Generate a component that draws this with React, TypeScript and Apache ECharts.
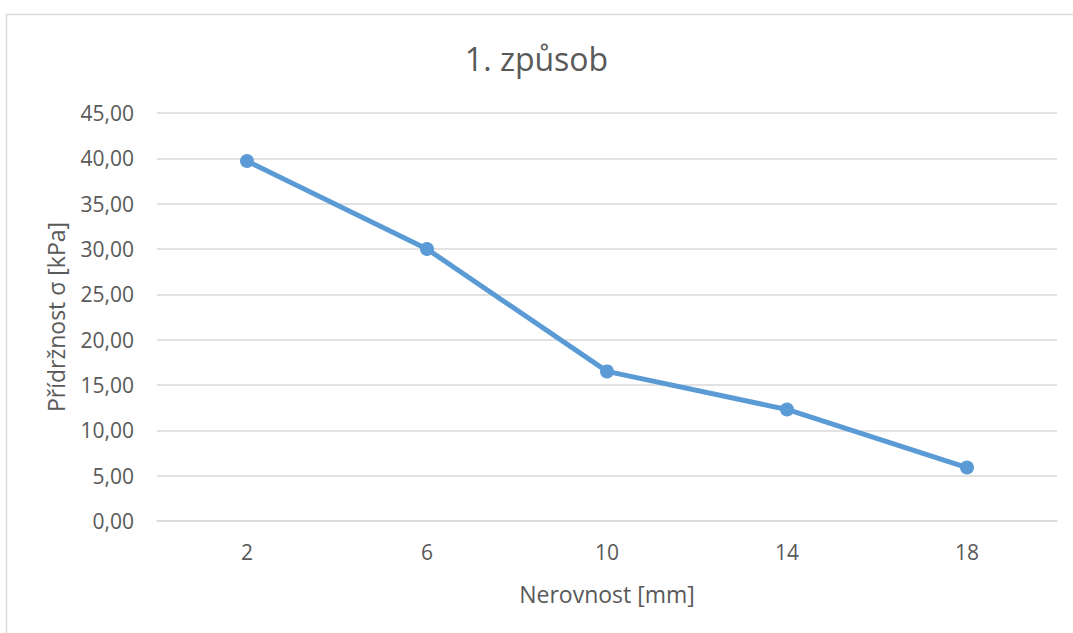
import React, { useEffect, useRef } from "react";
import * as echarts from "echarts";

const categories = ["2", "6", "10", "14", "18"];
const values = [39.7, 30.0, 16.5, 12.3, 5.9];
const titleText = "1. způsob";
const xName = "Nerovnost [mm]";
const yName = "Přídržnost σ [kPa]";

const FONT = "'Open Sans', sans-serif";
const TEXT = "#595959";
const GRID = "#D9D9D9";

export default function App() {
  const ref = useRef<HTMLDivElement>(null);
  useEffect(() => {
    if (!ref.current) return;
    const chart = echarts.init(ref.current, null, { renderer: "svg" });
    chart.setOption({
      animation: false,
      backgroundColor: "#fff",
      textStyle: { fontFamily: FONT },
      title: {
        text: titleText,
        left: "center",
        top: 37,
        textStyle: { fontFamily: FONT, fontSize: 32, fontWeight: "normal", color: TEXT },
      },
      graphic: [
        {
          type: "rect",
          shape: { x: 6.5, y: 14.5, width: 1200, height: 800 },
          style: { fill: "none", stroke: GRID, lineWidth: 1.5 },
          silent: true,
        },
      ],
      grid: { left: 157, right: 16, top: 113, bottom: 112, containLabel: false },
      xAxis: {
        type: "category",
        data: categories,
        boundaryGap: true,
        name: xName,
        nameLocation: "middle",
        nameGap: 61,
        nameTextStyle: { fontFamily: FONT, fontSize: 23, color: TEXT },
        axisLine: { show: true, lineStyle: { color: GRID, width: 1.5 } },
        axisTick: { show: false },
        axisLabel: { fontFamily: FONT, fontSize: 21, color: TEXT, margin: 20 },
      },
      yAxis: {
        type: "value",
        min: 0,
        max: 45,
        interval: 5,
        name: yName,
        nameLocation: "middle",
        nameGap: 90,
        nameTextStyle: { fontFamily: FONT, fontSize: 23, color: TEXT },
        axisLine: { show: false },
        axisTick: { show: false },
        splitLine: { lineStyle: { color: GRID, width: 1.5 } },
        axisLabel: {
          fontFamily: FONT,
          fontSize: 21,
          color: TEXT,
          margin: 23,
          formatter: (v: number) => v.toFixed(2).replace(".", ","),
        },
      },
      series: [
        {
          type: "line",
          data: values,
          symbol: "circle",
          symbolSize: 14,
          lineStyle: { color: "#5B9BD5", width: 5 },
          itemStyle: { color: "#5B9BD5" },
        },
      ],
    });
    return () => chart.dispose();
  }, []);
  return (
    <div
      ref={ref}
      style={{ position: "absolute", left: 0, top: 0, width: 1073, height: 633 }}
    />
  );
}
